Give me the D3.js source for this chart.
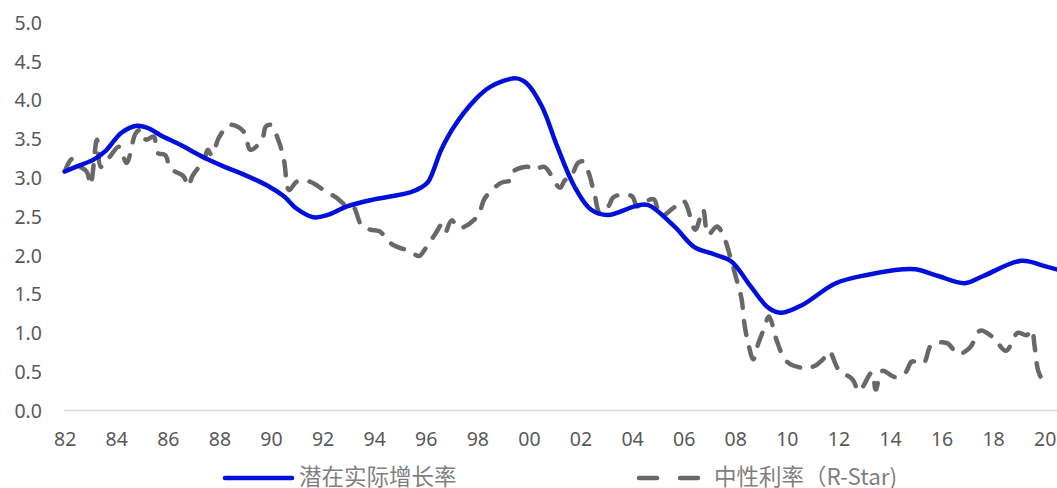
<!DOCTYPE html>
<html>
<head>
<meta charset="utf-8">
<script src="https://cdn.jsdelivr.net/npm/d3@7"></script>
<style>
  body { margin: 0; background: #fff; }
  svg { display: block; }
  .tick text { font-family: "Noto Sans", "Open Sans", sans-serif; font-size: 19.5px; fill: #595959; }
  .legendText { font-family: "Noto Sans CJK SC", "Noto Sans", sans-serif; font-size: 22.5px; fill: #7f7f7f; }
</style>
</head>
<body>
<div id="chartContent"></div>
<script>
// potential real growth rate (year, value)
var growthYears = [1982.0, 1982.5, 1983.1, 1983.6, 1984.2, 1984.8, 1985.3, 1985.7, 1986.5, 1987.4,
    1988.2, 1988.95, 1989.9, 1990.5, 1991.0, 1991.65, 1992.2, 1992.95, 1994.0, 1995.4,
    1995.8, 1996.1, 1996.6, 1997.1, 1997.9, 1998.5, 1999.5, 1999.9, 2000.5, 2001.1,
    2001.76, 2002.4, 2003.06, 2004.1, 2004.6, 2005.65, 2006.4, 2007.2, 2007.85, 2008.6,
    2009.3, 2009.8, 2010.6, 2011.9, 2013.15, 2014.5, 2015.0, 2015.9, 2016.9, 2017.6,
    2019.1, 2020.0, 2020.55]
var growthValues = [3.08, 3.15, 3.23, 3.35, 3.58, 3.67, 3.63, 3.55, 3.42, 3.26,
    3.14, 3.04, 2.89, 2.76, 2.60, 2.49, 2.52, 2.63, 2.72, 2.81,
    2.87, 2.95, 3.36, 3.66, 4.00, 4.17, 4.28, 4.22, 3.92, 3.40,
    2.89, 2.59, 2.52, 2.63, 2.65, 2.37, 2.11, 2.01, 1.92, 1.60,
    1.32, 1.26, 1.36, 1.64, 1.75, 1.82, 1.82, 1.73, 1.64, 1.73,
    1.93, 1.86, 1.81]

// neutral rate R-Star (year, value)
var rstarYears = [1982.0, 1982.28, 1982.45, 1982.85, 1983.0, 1983.25, 1983.4, 1983.75, 1984.1, 1984.4,
    1984.75, 1984.95, 1985.15, 1985.45, 1985.6, 1985.9, 1986.1, 1986.6, 1986.8, 1986.95,
    1987.4, 1987.55, 1987.7, 1988.0, 1988.4, 1988.95, 1989.2, 1989.65, 1989.8, 1990.0,
    1990.3, 1990.5, 1990.7, 1991.0, 1991.5, 1992.05, 1992.55, 1992.95, 1993.2, 1993.5,
    1993.85, 1994.2, 1994.7, 1995.4, 1995.75, 1995.95, 1996.4, 1996.6, 1996.75, 1997.0,
    1997.3, 1998.0, 1998.3, 1998.9, 1999.3, 1999.4, 1999.95, 2000.2, 2000.6, 2001.2,
    2001.4, 2001.6, 2001.9, 2002.1, 2002.3, 2002.55, 2002.75, 2003.1, 2003.25, 2003.55,
    2004.0, 2004.2, 2004.5, 2004.85, 2005.1, 2005.6, 2006.0, 2006.45, 2006.75, 2006.95,
    2007.3, 2007.6, 2007.8, 2008.05, 2008.25, 2008.35, 2008.5, 2008.7, 2008.9, 2009.1,
    2009.3, 2009.4, 2009.6, 2010.0, 2010.6, 2011.05, 2011.4, 2011.65, 2012.0, 2012.55,
    2012.8, 2013.3, 2013.45, 2013.7, 2014.2, 2014.6, 2014.85, 2015.3, 2015.6, 2016.2,
    2016.65, 2017.1, 2017.5, 2018.0, 2018.5, 2018.95, 2019.3, 2019.5, 2019.6, 2019.75,
    2020.0]
var rstarValues = [3.08, 3.24, 3.17, 3.08, 2.91, 3.49, 3.14, 3.27, 3.40, 3.19,
    3.57, 3.62, 3.49, 3.53, 3.32, 3.29, 3.12, 3.02, 2.89, 3.02,
    3.23, 3.36, 3.29, 3.53, 3.68, 3.59, 3.36, 3.49, 3.66, 3.68,
    3.47, 3.23, 2.84, 2.95, 2.95, 2.84, 2.74, 2.63, 2.62, 2.39,
    2.33, 2.31, 2.14, 2.05, 1.99, 2.07, 2.29, 2.39, 2.29, 2.45,
    2.35, 2.50, 2.74, 2.93, 2.97, 3.08, 3.14, 3.10, 3.14, 2.87,
    2.97, 2.99, 3.19, 3.21, 3.08, 2.78, 2.55, 2.64, 2.74, 2.78,
    2.76, 2.63, 2.69, 2.72, 2.50, 2.61, 2.70, 2.33, 2.59, 2.27,
    2.37, 2.20, 1.99, 1.69, 1.43, 1.13, 0.87, 0.66, 0.87, 1.04,
    1.21, 1.15, 0.91, 0.63, 0.55, 0.57, 0.66, 0.76, 0.53, 0.40,
    0.25, 0.49, 0.27, 0.51, 0.43, 0.49, 0.63, 0.61, 0.84, 0.87,
    0.73, 0.81, 1.03, 0.94, 0.77, 1.00, 0.97, 1.04, 0.85, 0.51,
    0.33]

var xTicks = [1982, 1984, 1986, 1988, 1990, 1992, 1994, 1996, 1998, 2000,
    2002, 2004, 2006, 2008, 2010, 2012, 2014, 2016, 2018, 2020]
var yTicks = [0, 0.5, 1, 1.5, 2, 2.5, 3, 3.5, 4, 4.5, 5]

var seriesNames = ["潜在实际增长率", "中性利率（R-Star)"]

var chartWidth = 1057;
var chartHeight = 488;

var svg = d3.select("#chartContent")
    .append("svg")
    .attr("width", chartWidth)
    .attr("height", chartHeight)

var xScale = d3.scaleLinear()
    .domain([1982, 2020])
    .range([64.7, 1044.7]);

var yScale = d3.scaleLinear()
    .domain([0, 5])
    .range([410.5, 22.5]);

//y axis labels, no line
var yAxis = svg.append("g")
    .call(d3.axisLeft(yScale).tickValues(yTicks).tickFormat(d3.format(".1f")).tickSize(0))
yAxis.select(".domain").remove()
yAxis.selectAll("text").attr("x", 42).attr("dy", "0.35em")

//x axis with light baseline
var xAxis = svg.append("g")
    .attr("transform", "translate(0,410.5)")
    .call(d3.axisBottom(xScale).tickValues(xTicks)
        .tickFormat(d => String(d % 100).padStart(2, "0")).tickSize(0))
xAxis.select(".domain").remove()
xAxis.selectAll("text").attr("y", 21.5).attr("dy", "0.71em")

svg.append("line")
    .attr("x1", 64)
    .attr("x2", chartWidth)
    .attr("y1", 410.5)
    .attr("y2", 410.5)
    .attr("stroke", "#d9d9d9")
    .attr("stroke-width", 1.5)

var line = d3.line()
    .x(d => xScale(d[0]))
    .y(d => yScale(d[1]))
    .curve(d3.curveCatmullRom.alpha(0.5))

var rstarData = rstarYears.map((y, i) => [y, rstarValues[i]])
var growthData = growthYears.map((y, i) => [y, growthValues[i]])

svg.append("path")
    .datum(rstarData)
    .attr("d", line)
    .attr("fill", "none")
    .attr("stroke", "#686868")
    .attr("stroke-width", 4.5)
    .attr("stroke-linecap", "round")
    .attr("stroke-linejoin", "round")
    .attr("stroke-dasharray", "14,13")

svg.append("path")
    .datum(growthData)
    .attr("d", line)
    .attr("fill", "none")
    .attr("stroke", "#0010dc")
    .attr("stroke-width", 4.5)
    .attr("stroke-linecap", "round")
    .attr("stroke-linejoin", "round")

//legend
var legend = svg.append("g")

legend.append("line")
    .attr("x1", 225).attr("x2", 292)
    .attr("y1", 478).attr("y2", 478)
    .attr("stroke", "#0010dc")
    .attr("stroke-width", 4.5)
    .attr("stroke-linecap", "round")

legend.append("text")
    .attr("class", "legendText")
    .attr("x", 299)
    .attr("y", 477)
    .attr("dy", "0.36em")
    .text(seriesNames[0])

legend.append("line")
    .attr("x1", 639).attr("x2", 700)
    .attr("y1", 478).attr("y2", 478)
    .attr("stroke", "#686868")
    .attr("stroke-width", 4.5)
    .attr("stroke-linecap", "round")
    .attr("stroke-dasharray", "18,23")

legend.append("text")
    .attr("class", "legendText")
    .attr("x", 714)
    .attr("y", 477)
    .attr("dy", "0.36em")
    .text(seriesNames[1])
</script>
</body>
</html>
